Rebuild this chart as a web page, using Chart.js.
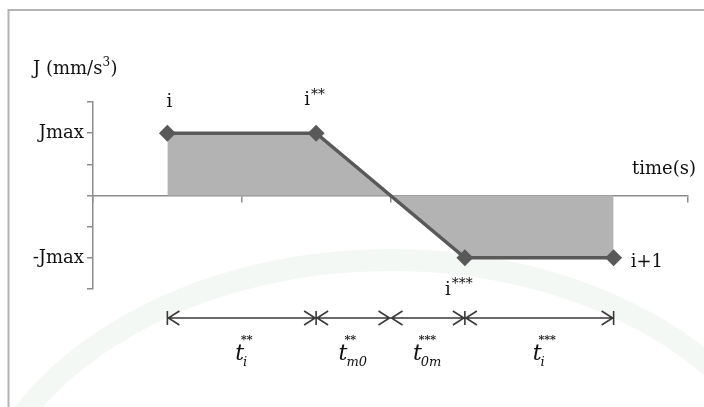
<!DOCTYPE html>
<html>
<head>
<meta charset="utf-8">
<script src="https://cdn.jsdelivr.net/npm/chart.js@4.4.1/dist/chart.umd.min.js"></script>
<style>
  html, body { margin: 0; padding: 0; background: #fff; }
  #wrap { width: 704px; height: 407px; }
</style>
</head>
<body>
<div id="wrap"><canvas id="jerk"></canvas></div>
<script>
// jerk profile of one segment: +Jmax hold, linear ramp through zero, -Jmax hold
const timeKnots = [0.5, 1.5, 2.5, 3.5];
const jerkValues = [2, 2, -2, -2];
const pointNames = [['i', ''], ['i', '**'], ['i', '***'], ['i+1', '']];
const yTickNames = { '2': 'Jmax', '-2': '-Jmax' };

// time intervals drawn under the plot
const intervalEdges = [0.5, 1.5, 2.0, 2.5, 3.5];
const intervalNames = [['i', '**'], ['m0', '**'], ['0m', '***'], ['i', '***']];
const barredEdges = [0.5, 1.5, 2.5, 3.5];

const SERIF = '"DejaVu Serif", "Liberation Serif", serif';
const AXIS_GREY = '#8c8c8c';
const LINE_GREY = '#595959';

function textWithSup(ctx, base, sup, x, y, size, align) {
  ctx.font = size + 'px ' + SERIF;
  const wb = ctx.measureText(base).width;
  ctx.font = Math.round(size * 0.75) + 'px ' + SERIF;
  const ws = ctx.measureText(sup).width;
  let left = x;
  if (align === 'center') left = x - (wb + ws) / 2;
  ctx.textAlign = 'left';
  ctx.textBaseline = 'alphabetic';
  ctx.font = size + 'px ' + SERIF;
  ctx.fillText(base, left, y);
  if (sup) {
    ctx.font = Math.round(size * 0.75) + 'px ' + SERIF;
    ctx.fillText(sup, left + wb + 1, y - size * 0.36);
  }
}

const backdrop = {
  id: 'backdrop',
  beforeDraw(chart) {
    const ctx = chart.ctx;
    ctx.save();
    ctx.fillStyle = '#fff';
    ctx.fillRect(0, 0, chart.width, chart.height);
    // faint watermark ring
    ctx.strokeStyle = 'rgba(215, 230, 215, 0.28)';
    ctx.lineWidth = 22;
    ctx.beginPath();
    ctx.ellipse(390, 560, 420, 300, 0, Math.PI * 1.02, Math.PI * 1.98);
    ctx.stroke();
    // picture frame
    ctx.strokeStyle = '#b4b4b4';
    ctx.lineWidth = 2;
    ctx.beginPath();
    ctx.moveTo(8.5, chart.height + 2);
    ctx.lineTo(8.5, 10);
    ctx.lineTo(chart.width + 2, 10);
    ctx.stroke();
    ctx.restore();
  }
};

const annotations = {
  id: 'annotations',
  afterDraw(chart) {
    const ctx = chart.ctx;
    const xs = chart.scales.x;
    const pts = chart.getDatasetMeta(0).data;
    ctx.save();
    ctx.fillStyle = '#111';

    // axis titles
    ctx.font = '18px ' + SERIF;
    ctx.textAlign = 'left';
    ctx.textBaseline = 'alphabetic';
    ctx.fillText('J (mm/s', 33, 74);
    const w = ctx.measureText('J (mm/s').width;
    ctx.font = '12px ' + SERIF;
    ctx.fillText('3', 33 + w, 66);
    ctx.font = '18px ' + SERIF;
    ctx.fillText(')', 33 + w + 8, 74);
    ctx.fillText('time(s)', 632, 174);

    // point names
    const place = [
      [2, -26, 'center'],
      [-12, -28, 'left'],
      [-20, 37, 'left'],
      [17, 9, 'left'],
    ];
    pts.forEach((p, k) => {
      const [dx, dy, al] = place[k];
      textWithSup(ctx, pointNames[k][0], pointNames[k][1], p.x + dx, p.y + dy, 18, al);
    });

    // interval arrows
    const yA = 318;
    ctx.strokeStyle = '#3a3a3a';
    ctx.lineWidth = 1.6;
    const px = intervalEdges.map(v => xs.getPixelForValue(v));
    ctx.beginPath();
    ctx.moveTo(px[0], yA);
    ctx.lineTo(px[px.length - 1], yA);
    for (let k = 0; k < px.length - 1; k++) {
      const a = px[k], b = px[k + 1];
      ctx.moveTo(a + 12, yA - 7); ctx.lineTo(a + 1, yA); ctx.lineTo(a + 12, yA + 7);
      ctx.moveTo(b - 12, yA - 7); ctx.lineTo(b - 1, yA); ctx.lineTo(b - 12, yA + 7);
    }
    barredEdges.forEach(v => {
      const x = xs.getPixelForValue(v);
      ctx.moveTo(x, yA - 7); ctx.lineTo(x, yA + 7);
    });
    ctx.stroke();

    // interval names: t with subscript and starred superscript
    intervalNames.forEach(([sub, sup], k) => {
      const cx = (px[k] + px[k + 1]) / 2;
      ctx.font = 'italic 22px ' + SERIF;
      const wt = ctx.measureText('t').width;
      ctx.font = 'italic 13px ' + SERIF;
      const wsub = ctx.measureText(sub).width;
      const left = cx - (wt + wsub) / 2;
      ctx.textAlign = 'left';
      ctx.font = 'italic 22px ' + SERIF;
      ctx.fillText('t', left, 360);
      ctx.font = 'italic 13px ' + SERIF;
      ctx.fillText(sub, left + wt - 1, 366);
      ctx.font = 'bold 11px ' + SERIF;
      ctx.fillText(sup, left + wt - 3, 343);
    });
    ctx.restore();
  }
};

new Chart(document.getElementById('jerk'), {
  type: 'line',
  data: {
    datasets: [{
      data: timeKnots.map((t, k) => ({ x: t, y: jerkValues[k] })),
      borderColor: LINE_GREY,
      borderWidth: 3.5,
      backgroundColor: '#b3b3b3',
      fill: 'origin',
      pointStyle: 'rectRot',
      pointRadius: 6,
      pointBackgroundColor: LINE_GREY,
      pointBorderColor: LINE_GREY,
      tension: 0,
    }]
  },
  options: {
    responsive: true,
    maintainAspectRatio: false,
    animation: false,
    layout: { padding: { left: 0, right: 16, top: 102, bottom: 118 } },
    plugins: { legend: { display: false }, tooltip: { enabled: false } },
    scales: {
      x: {
        type: 'linear',
        min: 0,
        max: 4,
        position: { y: 0 },
        z: 1,
        ticks: { stepSize: 1, display: false },
        grid: { drawOnChartArea: false, drawTicks: true, tickLength: 6, color: AXIS_GREY, lineWidth: 1.5 },
        border: { color: AXIS_GREY, width: 1.5 },
      },
      y: {
        type: 'linear',
        min: -3,
        max: 3,
        afterFit: s => { s.width = 93; },
        ticks: {
          stepSize: 1,
          padding: 3,
          color: '#111',
          font: { family: SERIF, size: 18 },
          callback: v => yTickNames[String(v)] || '',
        },
        grid: { drawOnChartArea: false, drawTicks: true, tickLength: 6, color: AXIS_GREY, lineWidth: 1.5 },
        border: { color: AXIS_GREY, width: 1.5 },
      }
    }
  },
  plugins: [backdrop, annotations]
});
</script>
</body>
</html>
